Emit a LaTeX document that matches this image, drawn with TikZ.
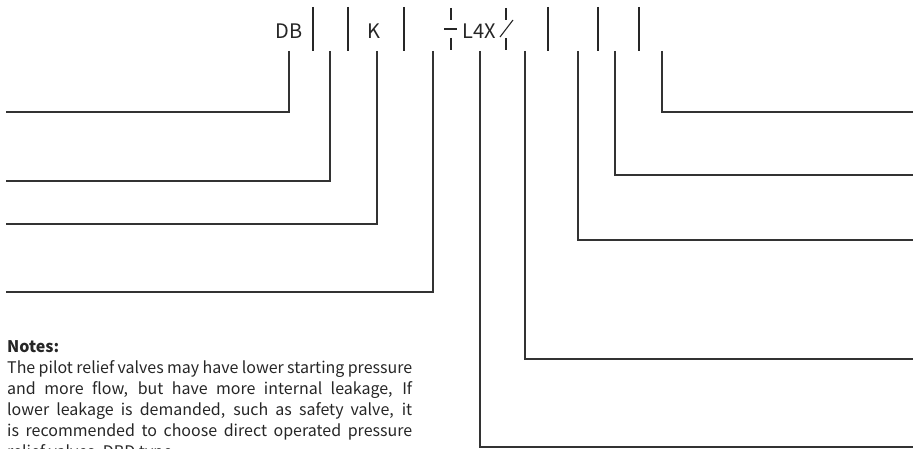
\documentclass[tikz,border=0pt]{standalone}
\usepackage{fontspec}
\setmainfont{Noto Sans CJK SC}
\usetikzlibrary{positioning}

\tikzset{
  leader/.style={draw=black!80,line width=1.1pt},
  sep/.style={draw=black!85,line width=1.1pt},
  code/.style={font=\fontsize{20}{24}\selectfont,inner sep=0pt,text=black!85},
  notes/.style={font=\fontsize{16}{21}\selectfont,inner sep=0pt,text width=405pt,
    align=justify,text=black!85},
}

\begin{document}
\begin{tikzpicture}[x=1pt,y=-1pt,line cap=butt]
\useasboundingbox (0,0) rectangle (913,449);
\clip (0,0) rectangle (913,449);

% ordering code
\node[code] (db) at (289,31) {DB};
\node[code] (k) at (373.5,31) {K};
\node[code] (l4x) at (479,31) {L4X};

% separators
\draw[sep] (313,7) -- (313,51);
\draw[sep] (348,7) -- (348,51);
\draw[sep] (404,7) -- (404,51);
\draw[sep] (548,7) -- (548,51);
\draw[sep] (598,7) -- (598,51);
\draw[sep] (639,7) -- (639,51);
\draw[sep] (451,8) -- (451,20);
\draw[sep] (451,38) -- (451,50);
\draw[sep] (444,29) -- (457,29);
\draw[sep] (506,8) -- (506,20);
\draw[sep] (506,38) -- (506,50);
\draw[sep] (500,37) -- (513,20);

% leaders to the left
\coordinate (t1) at (289,51); \coordinate (e1) at (6,112);
\coordinate (t2) at (330,51); \coordinate (e2) at (6,181);
\coordinate (t3) at (377,51); \coordinate (e3) at (6,224);
\coordinate (t4) at (433,51); \coordinate (e4) at (6,292);
\draw[leader] (t1) |- (e1);
\draw[leader] (t2) |- (e2);
\draw[leader] (t3) |- (e3);
\draw[leader] (t4) |- (e4);

% leaders to the right
\coordinate (t5) at (480,51); \coordinate (e5) at (913,447);
\coordinate (t6) at (525,51); \coordinate (e6) at (913,359);
\coordinate (t7) at (578,51); \coordinate (e7) at (913,240);
\coordinate (t8) at (615,51); \coordinate (e8) at (913,175);
\coordinate (t9) at (662,51); \coordinate (e9) at (913,112);
\draw[leader] (t5) |- (e5);
\draw[leader] (t6) |- (e6);
\draw[leader] (t7) |- (e7);
\draw[leader] (t8) |- (e8);
\draw[leader] (t9) |- (e9);

% notes
\node[notes,anchor=north west] (notes) at (7,340) {\textbf{Notes:}\\
The pilot relief valves may have lower starting pressure\linebreak
and more flow, but have more internal leakage, If\linebreak
lower leakage is demanded, such as safety valve, it\linebreak
is recommended to choose direct operated pressure\linebreak
relief valves, DBD type.};
\end{tikzpicture}
\end{document}
